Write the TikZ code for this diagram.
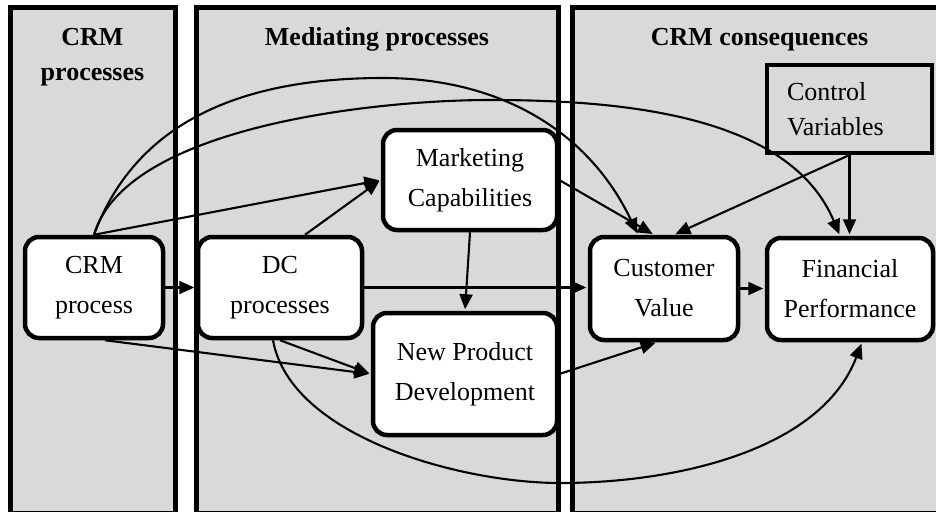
\documentclass[tikz,border=0pt]{standalone}
\usepackage{fontspec}
\setmainfont{Liberation Serif}
\usetikzlibrary{arrows.meta,calc}
\definecolor{panelgray}{RGB}{217,217,217}
\begin{document}
\begin{tikzpicture}[x=1pt,y=-1pt,
  panel/.style={draw=black,line width=5pt,fill=panelgray},
  head/.style={font=\fontsize{26}{35}\selectfont\bfseries,align=center,inner sep=0pt},
  proc/.style={draw=black,line width=4.5pt,fill=white,rounded corners=14pt,
    align=center,font=\fontsize{26}{40}\selectfont,inner sep=0pt},
  ctrlbox/.style={draw=black,line width=4pt,fill=panelgray,
    font=\fontsize{26}{35}\selectfont,align=left,inner xsep=20pt,inner ysep=0pt,
    text width=125pt},
  link/.style={line width=2.1pt,shorten >=1.5pt,-{Triangle[length=15pt,width=13pt]}}
]
\useasboundingbox (0,0) rectangle (936,511);

% column panels (bottom and right edges run off the page)
\begin{scope}
  \clip (0,0) rectangle (936,511);
  \fill[white] (0,0) rectangle (936,511);
  \draw[panel] (10,7.5) rectangle (175.5,513);
  \draw[panel] (196,7.5) rectangle (558.5,513);
  \draw[panel] (572.5,7.5) rectangle (950,513);
\end{scope}

% column headings
\node[head] (h1) at (92.5,57) {CRM\\processes};
\node[head,anchor=base] (h2) at (377,45.5) {Mediating processes};
\node[head,anchor=base] (h3) at (759.5,45.5) {CRM consequences};

% construct boxes
\node[proc,minimum width=138pt,minimum height=101pt] (crm) at (94,287.5) {CRM\\process};
\node[proc,minimum width=164pt,minimum height=101pt] (dc) at (280,287.5) {DC\\processes};
\node[proc,minimum width=174pt,minimum height=100pt] (mc) at (470,180) {Marketing\\Capabilities};
\node[proc,minimum width=184pt,minimum height=122pt] (npd) at (465,374) {New Product\\Development};
\node[proc,minimum width=148pt,minimum height=103pt] (cv) at (664,288.5) {Customer\\Value};
\node[proc,minimum width=166pt,minimum height=102pt] (fp) at (850,289) {Financial\\Performance};
\node[ctrlbox,minimum height=88pt] (ctrl) at (849.5,109) {Control\\Variables};

% arrow end points on the box borders
\coordinate (dcTop) at ($(dc.north)+(25,0)$);
\coordinate (dcLow) at ($(dc.south)+(-7,0)$);
\coordinate (crmLow) at ($(crm.south)+(11,0)$);
\coordinate (cvA) at ($(cv.north)+(-26,0)$);
\coordinate (cvB) at ($(cv.north)+(-10,0)$);
\coordinate (cvC) at ($(cv.north)+(10,0)$);
\coordinate (cvD) at ($(cv.south)+(-7,0)$);
\coordinate (fpA) at ($(fp.north)+(-10,0)$);
\coordinate (fpB) at ($(fp.south)+(12,0)$);

% straight links
\draw[link] (crm.east) -- (crm.east -| dc.west);
\draw[link] (dc.east) -- (dc.east -| cv.west);
\draw[link] (cv.east) -- (cv.east -| fp.west);
\draw[link] (crm.north) -- (mc.west);
\draw[link] (dcTop) -- (mc.west);
\draw[link] (mc.east) -- (cvB);
\draw[link] (ctrl.south) -- (cvC);
\draw[link] (ctrl.south) -- (ctrl.south |- fp.north);
\draw[link] (mc.south) -- (npd.north);
\draw[link] (crmLow) -- (npd.west);
\draw[link] (dc.south) -- (npd.west);
\draw[link] (npd.east) -- (cvD);

% curved links
\draw[link] (crm.north) .. controls (138.5,114.8) and (253,78) .. (383,78)
  .. controls (500,78) and (588.6,131) .. (cvA);
\draw[link] (crm.north) .. controls (125.7,126.5) and (375,100) .. (490,100)
  .. controls (623,100) and (789.3,115) .. (fpA);
\draw[link] (dcLow) .. controls (290.4,436.5) and (460,483) .. (560,483)
  .. controls (677,483) and (821,450) .. (fpB);
\end{tikzpicture}
\end{document}
